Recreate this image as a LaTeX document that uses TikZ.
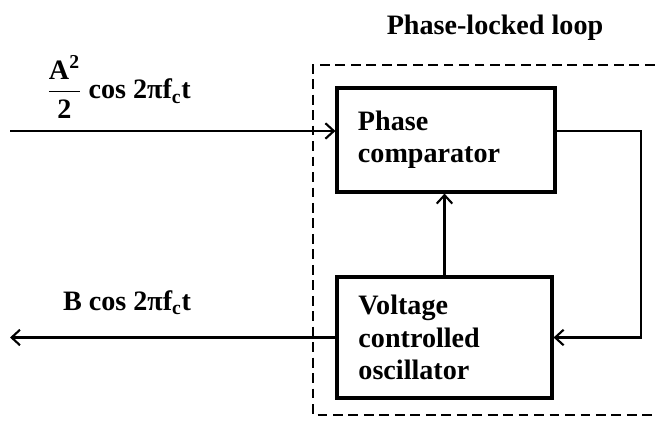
\documentclass[tikz,border=0pt]{standalone}
\usepackage{amsmath}
\usepackage{fontspec}
\setmainfont{Liberation Serif}
\usepackage{tikz}
\usetikzlibrary{arrows.meta, positioning, calc}

\begin{document}
\begin{tikzpicture}[x=0.025cm, y=-0.025cm,
    font=\fontsize{20}{23}\selectfont\bfseries,
    blok/.style={draw, line width=2.2pt, align=left, inner xsep=0.5cm},
    sig/.style={line width=1.5pt, -{Straight Barb[length=6pt,width=11pt,line width=1.5pt]}},
    loopbox/.style={dashed, line width=1.3pt, dash pattern=on 7pt off 4pt}]
    \useasboundingbox (0,0) rectangle (655,426);
    % Khoi chinh
    \node[blok, minimum width=5.45cm, minimum height=2.6cm, text width=4.4cm] (pc) at (446,140) {Phase\\comparator};
    \node[blok, minimum width=5.375cm, minimum height=3.025cm, text width=4.3cm] (vco) at (444.5,337.5) {Voltage\\controlled\\oscillator};
    % Vung PLL
    \draw[loopbox] (670,65) -| (313,415) -- (670,415);
    \node (title) at (495,28) {Phase-locked loop};
    % Tin hieu vao / ra
    \coordinate (in) at (10,131);
    \coordinate (fb) at (641,131);
    \coordinate (out) at (10,338);
    \draw[sig] (in) -- (in -| pc.west);
    \draw[sig] (in -| pc.east) -- (fb) |- (vco.east);
    \draw[sig] (vco.north) -- (vco.north |- pc.south);
    \draw[sig] (vco.west) -- (vco.west -| out);
    \node (lblin) at (119,87) {$\dfrac{\text{A}^{\text{2}}}{\text{2}}$ cos 2πf\textsubscript{c}t};
    \node (lblout) at (127,303) {B cos 2πf\textsubscript{c}t};
\end{tikzpicture}
\end{document}
